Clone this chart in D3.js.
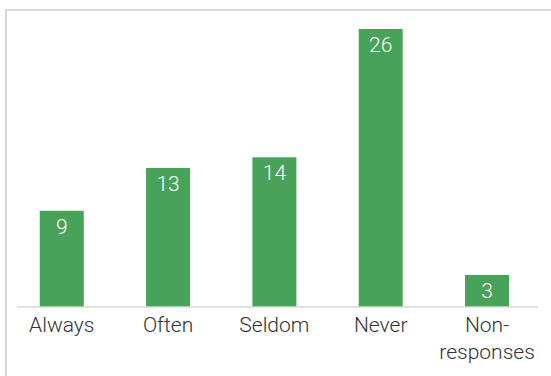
<!DOCTYPE html>
<html>
<head>
<meta charset="utf-8">
<script src="https://cdn.jsdelivr.net/npm/d3@7"></script>
<style>
  body { margin: 0; background: #fff; }
  svg { display: block; }
  text { font-family: Roboto, "Liberation Sans", sans-serif; font-weight: 300; }
</style>
</head>
<body>
<svg></svg>
<script>
const width = 551;
const height = 376;

// chart data
const categories = ['Always', 'Often', 'Seldom', 'Never', 'Non-responses'];
const labelLines = [['Always'], ['Often'], ['Seldom'], ['Never'], ['Non-', 'responses']];
const counts = [9, 13, 14, 26, 3];

const svg = d3.select('svg')
    .attr('width', width).attr('height', height);

// chart frame (runs off the right/bottom edge)
svg.append('rect')
    .attr('x', 6).attr('y', 10)
    .attr('width', 600).attr('height', 400)
    .style('fill', '#fff')
    .style('stroke', '#d9d9d9')
    .style('stroke-width', 2);

const x = d3.scaleBand()
    .domain(categories)
    .range([8.6, 540.2])
    .paddingInner(0.586)
    .paddingOuter(0.293);

const y = d3.scaleLinear()
    .domain([0, 26])
    .range([307, 29]);

// bars
svg.selectAll('.bar')
    .data(counts)
    .enter().append('rect')
    .attr('class', 'bar')
    .attr('x', (d, i) => x(categories[i]))
    .attr('y', d => y(d))
    .attr('width', x.bandwidth())
    .attr('height', d => y(0) - y(d))
    .style('fill', '#49a25a');

// value labels inside bars
svg.selectAll('.val')
    .data(counts)
    .enter().append('text')
    .attr('class', 'val')
    .attr('x', (d, i) => x(categories[i]) + x.bandwidth() / 2)
    .attr('y', d => y(d) + 23)
    .attr('text-anchor', 'middle')
    .style('font-size', '21px')
    .style('fill', '#fff')
    .text(d => d);

// baseline
svg.append('line')
    .attr('x1', 17).attr('x2', 538)
    .attr('y1', y(0)).attr('y2', y(0))
    .style('stroke', '#d9d9d9')
    .style('stroke-width', 1.5);

// category labels
const labels = svg.selectAll('.cat')
    .data(categories)
    .enter().append('text')
    .attr('class', 'cat')
    .attr('x', d => x(d) + x.bandwidth() / 2)
    .attr('y', 332)
    .attr('text-anchor', 'middle')
    .style('font-size', '21px')
    .style('fill', '#333');

labels.selectAll('tspan')
    .data((d, i) => labelLines[i])
    .enter().append('tspan')
    .attr('x', function () { return this.parentNode.getAttribute('x'); })
    .attr('dy', (d, i) => i === 0 ? 0 : 27)
    .text(d => d);
</script>
</body>
</html>
